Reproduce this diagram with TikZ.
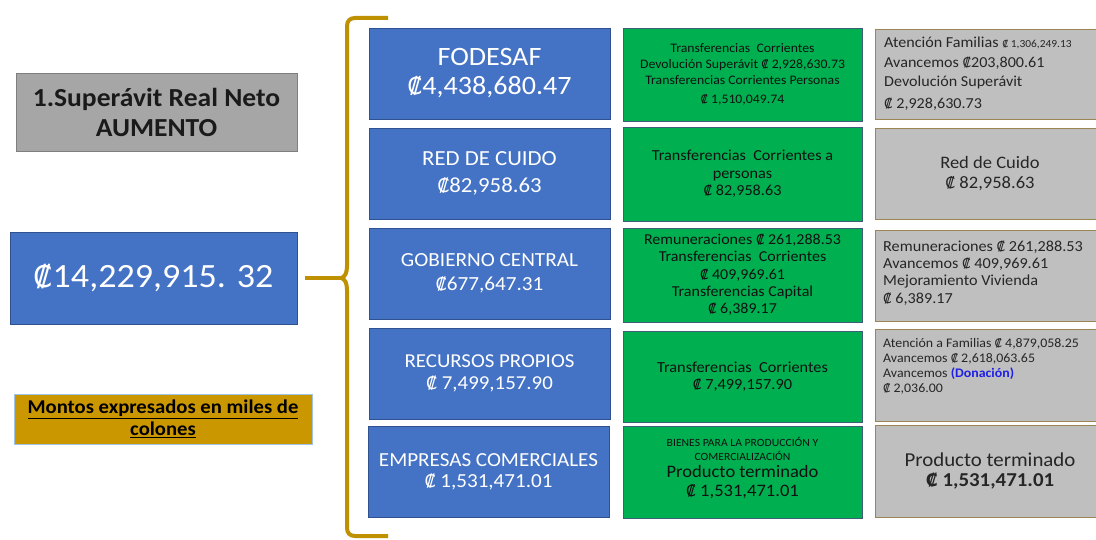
\documentclass[tikz,border=0pt]{standalone}
\usepackage{fontspec}
\setmainfont{Carlito}[FakeStretch=1.06]
\newfontfamily\dejavu{DejaVu Sans}[Scale=0.88]
\newcommand{\col}{{\dejavu ₡}}
\newcommand{\fsz}[2]{\fontsize{#1}{#2}\selectfont}
\definecolor{blueF}{HTML}{4472C4}
\definecolor{blueD}{HTML}{2F528F}
\definecolor{greenF}{HTML}{00B050}
\definecolor{greenD}{HTML}{3F5F78}
\definecolor{greenT}{HTML}{111111}
\definecolor{grayF}{HTML}{BFBFBF}
\definecolor{grayD}{HTML}{9C8555}
\definecolor{grayT}{HTML}{262626}
\definecolor{titleF}{HTML}{A6A6A6}
\definecolor{titleD}{HTML}{7F7F7F}
\definecolor{titleT}{HTML}{1A1A1A}
\definecolor{goldF}{HTML}{CA9700}
\definecolor{goldD}{HTML}{9DC3E6}
\definecolor{braceC}{HTML}{BF9000}
\definecolor{donB}{HTML}{1F1FE6}
\begin{document}
\begin{tikzpicture}[x=1pt,y=-1pt,
  box/.style={draw, line width=0.8pt, inner sep=0pt, outer sep=0pt, anchor=north west, align=center},
  bluebox/.style={box, fill=blueF, draw=blueD, text=white, minimum width=241pt, minimum height=91pt},
  greenbox/.style={box, fill=greenF, draw=greenD, text=greenT, minimum width=239pt},
  graybox/.style={box, fill=grayF, draw=grayD, text=grayT, minimum width=230pt},
  graytext/.style={inner sep=0pt, text=grayT, align=left},
  greentext/.style={inner sep=0pt, text=greenT, align=center},
  brace/.style={draw=braceC, line width=4pt}]
\useasboundingbox (0,0) rectangle (1096,540);
\fill[white] (0,0) rectangle (1096,540);
\clip (0,0) rectangle (1096,540);

% left column
\node[box, fill=titleF, draw=titleD, minimum width=281pt, minimum height=78pt,
      font=\bfseries\fsz{26}{30}, text=titleT] (title) at (16,73) {1.Superávit Real Neto\\AUMENTO};
\node[box, fill=blueF, draw=blueD, minimum width=287pt, minimum height=92pt,
      text=white, font=\fsz{34}{40}] (total) at (10,232) {\col14,229,915. 32};
\node[box, fill=goldF, draw=goldD, minimum width=298pt, minimum height=50pt,
      font=\bfseries\fsz{19.5}{22}, text=black] (note) at (14,394)
      {\underline{Montos expresados en miles de}\\\underline{colones}};

% brace
\coordinate (cusp) at (341,278);
\draw[brace] (388,18) -- (355,18) .. controls (350,18) and (347,21) .. (347,26)
  -- (347,266) .. controls (347,273) and (345,277) .. (cusp)
  .. controls (345,279) and (347,283) .. (347,290)
  -- (347,528) .. controls (347,533) and (350,536) .. (355,536) -- (388,536);
\draw[brace] ([xshift=8pt]total.east) -- (cusp);

% blue column
\node[bluebox, font=\fsz{26.5}{29}] (fodesaf) at (369,28) {FODESAF\\\col4,438,680.47};
\node[bluebox, font=\fsz{21.5}{26.5}] (red) at (369,128) {RED DE CUIDO\\\col82,958.63};
\node[bluebox, font=\fsz{20}{24}] (gob) at (369,228) {GOBIERNO CENTRAL\\\col677,647.31};
\node[bluebox, font=\fsz{19.7}{22}] (rec) at (369,328) {RECURSOS PROPIOS\\\col\ 7,499,157.90};
\node[bluebox, font=\fsz{19.9}{21}] (emp) at (368,426) {EMPRESAS COMERCIALES\\\col\ 1,531,471.01};

% green column
\node[greenbox, minimum height=93pt, font=\fsz{13}{16}] (g1) at (623,28)
  {Transferencias\ \ Corrientes\\Devolución Superávit \col\ 2,928,630.73\\Transferencias Corrientes Personas\\[3pt]\col\ 1,510,049.74};
\node[greenbox, minimum height=94pt, font=\fsz{15.3}{17.5}] (g2) at (623,127)
  {Transferencias\ \ Corrientes a\\personas\\\col\ 82,958.63};
\node[greenbox, minimum height=94pt, font=\fsz{15.1}{17.3}] (g3) at (623,228)
  {Remuneraciones \col\ 261,288.53\\Transferencias\ \ Corrientes\\\col\ 409,969.61\\Transferencias Capital\\\col\ 6,389.17};
\node[greenbox, minimum height=91pt, font=\fsz{15.4}{17}] (g4) at (623,331)
  {Transferencias\ \ Corrientes\\\col\ 7,499,157.90};
\node[greenbox, minimum height=92pt] (g5) at (623,426) {};
\node[greentext, font=\fsz{11}{14}] (g5a) at (742.5,449) {BIENES PARA LA PRODUCCIÓN Y\\COMERCIALIZACIÓN};
\node[greentext, font=\fsz{17.5}{19}] (g5b) at (742.5,482.5) {Producto terminado\\\col\ 1,531,471.01};

% gray column
\node[graybox, minimum height=90pt] (r1) at (875,29) {};
\node[graytext, anchor=west, font=\fsz{15.2}{19.5}] (r1t) at (884,73.5)
  {Atención Familias {\fsz{10.8}{19.5}\col\ 1,306,249.13}\\Avancemos \col203,800.61\\Devolución Superávit\\[2pt]\col\ 2,928,630.73};
\node[graybox, minimum height=91pt, font=\fsz{17.5}{20}] (r2) at (875,128)
  {Red de Cuido\\\col\ 82,958.63};
\node[graybox, minimum height=91pt] (r3) at (875,230) {};
\node[graytext, anchor=west, font=\fsz{15.3}{17.3}] (r3t) at (883,273)
  {Remuneraciones \col\ 261,288.53\\Avancemos \col\ 409,969.61\\Mejoramiento Vivienda\\\col\ 6,389.17};
\node[graybox, minimum height=92pt] (r4) at (875,329) {};
\node[graytext, anchor=west, font=\fsz{13.1}{15}] (r4t) at (883,366.5)
  {Atención a Familias \col\ 4,879,058.25\\Avancemos \col\ 2,618,063.65\\Avancemos {\color{donB}\bfseries (Donación)}\\\col\ 2,036.00};
\node[graybox, minimum height=92pt, font=\fsz{19.7}{20}] (r5) at (875,425)
  {Producto terminado\\\textbf{\col\ 1,531,471.01}};
\end{tikzpicture}
\end{document}
